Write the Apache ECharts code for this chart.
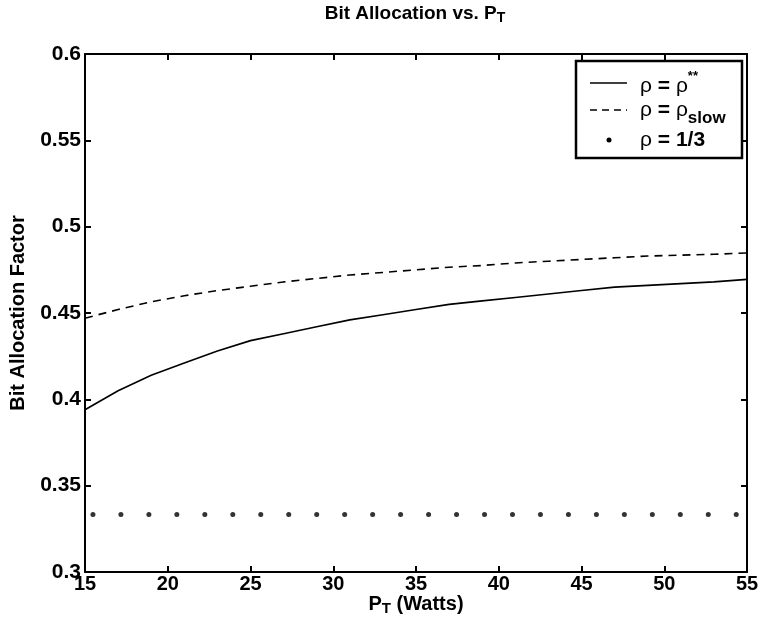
<!DOCTYPE html>
<html>
<head>
<meta charset="utf-8">
<script src="https://cdn.jsdelivr.net/npm/echarts@6/dist/echarts.min.js"></script>
<style>
html,body{margin:0;padding:0;background:#fff;}
#chart{width:765px;height:631px;}
</style>
</head>
<body>
<div id="chart"></div>
<script>
var powerWatts = [15,17,19,21,23,25,27,29,31,33,35,37,39,41,43,45,47,49,51,53,55];
var rhoOptimal = [0.394,0.405,0.414,0.421,0.428,0.434,0.438,0.442,0.446,0.449,0.452,0.455,0.457,0.459,0.461,0.463,0.465,0.466,0.467,0.468,0.4695];
var rhoSlow = [0.447,0.452,0.4565,0.460,0.463,0.4655,0.468,0.470,0.472,0.4735,0.475,0.4765,0.4775,0.479,0.480,0.481,0.482,0.483,0.4835,0.484,0.4848];
var dotPower = [15.48,17.17,18.86,20.55,22.24,23.93,25.62,27.31,29.00,30.69,32.38,34.07,35.76,37.45,39.14,40.83,42.52,44.21,45.90,47.59,49.28,50.97,52.66,54.35];
var rhoThird = 1/3;
var xTicks = [15,20,25,30,35,40,45,50,55];
var yTicks = [0.3,0.35,0.4,0.45,0.5,0.55,0.6];

var FONT = '"Liberation Sans", Arial, Helvetica, sans-serif';
var chart = echarts.init(document.getElementById('chart'), null, {renderer:'canvas'});

function pairs(xs, ys){ return xs.map(function(x,i){ return [x, ys[i]]; }); }

var axisLineStyle = {color:'#000', width:2};
var option = {
  backgroundColor:'#fff',
  animation:false,
  grid:{left:84, right:18, top:54, bottom:59, containLabel:false},
  xAxis:[{
    type:'value', min:15, max:55, interval:5,
    axisLine:{show:true, onZero:false, lineStyle:axisLineStyle},
    axisTick:{show:true, inside:true, length:6, lineStyle:{color:'#000', width:2}},
    axisLabel:{color:'#000', fontFamily:FONT, fontWeight:'bold', fontSize:20, margin:2,
      formatter:function(v){ return xTicks.indexOf(v) >= 0 ? String(v) : ''; }},
    splitLine:{show:false},
    name:'{m|P}{s|T}{m| (Watts)}', nameLocation:'middle', nameGap:22, nameMoveOverlap:false,
    nameTextStyle:{rich:{
      m:{fontFamily:FONT, fontWeight:'bold', fontSize:20, lineHeight:22, color:'#000', verticalAlign:'top'},
      s:{fontFamily:FONT, fontWeight:'bold', fontSize:15, lineHeight:17, color:'#000', padding:[14,0,0,0], verticalAlign:'bottom'}
    }}
  },{
    type:'value', min:15, max:55, interval:5, position:'top',
    axisLine:{show:true, onZero:false, lineStyle:axisLineStyle},
    axisTick:{show:true, inside:true, length:6, lineStyle:{color:'#000', width:2}},
    axisLabel:{show:false}, splitLine:{show:false}
  }],
  yAxis:[{
    type:'value', min:0.3, max:0.6, interval:0.05,
    axisLine:{show:true, onZero:false, lineStyle:axisLineStyle},
    axisTick:{show:true, inside:true, length:6, lineStyle:{color:'#000', width:2}},
    axisLabel:{color:'#000', fontFamily:FONT, fontWeight:'bold', fontSize:21, margin:4,
      formatter:function(v){ return String(parseFloat(v.toFixed(2))); }},
    splitLine:{show:false},
    name:'Bit Allocation Factor', nameLocation:'middle', nameGap:57,
    nameTextStyle:{fontFamily:FONT, fontWeight:'bold', fontSize:20, color:'#000'}
  },{
    type:'value', min:0.3, max:0.6, interval:0.05, position:'right',
    axisLine:{show:true, onZero:false, lineStyle:axisLineStyle},
    axisTick:{show:true, inside:true, length:6, lineStyle:{color:'#000', width:2}},
    axisLabel:{show:false}, splitLine:{show:false}
  }],
  series:[
    {name:'opt', type:'line', xAxisIndex:0, yAxisIndex:0, data:pairs(powerWatts, rhoOptimal),
     showSymbol:false, lineStyle:{color:'#000', width:1.6}, silent:true},
    {name:'slow', type:'line', xAxisIndex:0, yAxisIndex:0, data:pairs(powerWatts, rhoSlow),
     showSymbol:false, lineStyle:{color:'#000', width:1.6, type:[8,6]}, silent:true},
    {name:'third', type:'scatter', xAxisIndex:0, yAxisIndex:0,
     data:dotPower.map(function(x){ return [x, rhoThird]; }),
     symbol:'circle', symbolSize:5, itemStyle:{color:'#000'}, silent:true}
  ],
  graphic:[
    {type:'text', x:415, y:4, style:{
      text:'{m|Bit Allocation vs. P}{s|T}', align:'center',
      rich:{
        m:{fontFamily:FONT, fontWeight:'bold', fontSize:19, lineHeight:21, color:'#000', verticalAlign:'top'},
        s:{fontFamily:FONT, fontWeight:'bold', fontSize:14, lineHeight:16, color:'#000', padding:[14,0,0,0], verticalAlign:'bottom'}
      }}},
    {type:'rect', shape:{x:576, y:61, width:166, height:97},
     style:{fill:'#fff', stroke:'#000', lineWidth:2.5}, z:10},
    {type:'line', shape:{x1:590, y1:83, x2:627, y2:83}, style:{stroke:'#000', lineWidth:1.5}, z:11},
    {type:'line', shape:{x1:590, y1:110, x2:627, y2:110}, style:{stroke:'#000', lineWidth:1.5, lineDash:[7,5]}, z:11},
    {type:'circle', shape:{cx:609, cy:140, r:2.5}, style:{fill:'#000'}, z:11},
    {type:'text', x:640, y:86, z:11, style:{
      text:'{r|ρ}{b| = }{r|ρ}{sup|**}', verticalAlign:'middle',
      rich:{
        r:{fontFamily:FONT, fontSize:21, color:'#000'},
        b:{fontFamily:FONT, fontWeight:'bold', fontSize:21, color:'#000'},
        sup:{fontFamily:FONT, fontWeight:'bold', fontSize:13, color:'#000', padding:[0,0,20,0]}
      }}},
    {type:'text', x:640, y:110, z:11, style:{
      text:'{r|ρ}{b| = }{r|ρ}{sub|slow}', verticalAlign:'middle',
      rich:{
        r:{fontFamily:FONT, fontSize:21, color:'#000'},
        b:{fontFamily:FONT, fontWeight:'bold', fontSize:21, color:'#000'},
        sub:{fontFamily:FONT, fontWeight:'bold', fontSize:17, color:'#000', padding:[16,0,0,0]}
      }}},
    {type:'text', x:640, y:140, z:11, style:{
      text:'{r|ρ}{b| = 1/3}', verticalAlign:'middle',
      rich:{
        r:{fontFamily:FONT, fontSize:21, color:'#000'},
        b:{fontFamily:FONT, fontWeight:'bold', fontSize:21, color:'#000'}
      }}}
  ]
};
chart.setOption(option);
</script>
</body>
</html>
